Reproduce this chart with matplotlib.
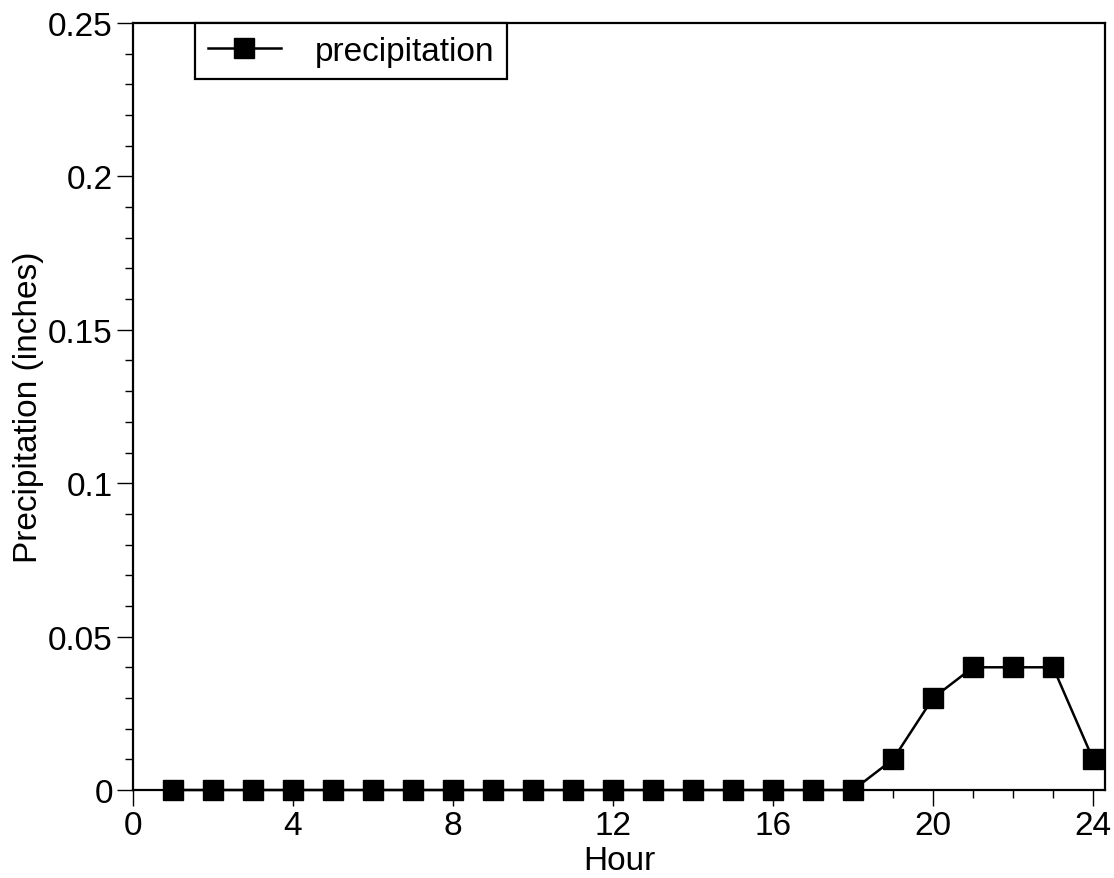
import numpy as np
import matplotlib
matplotlib.use("Agg")
import matplotlib.pyplot as plt
from matplotlib.ticker import MultipleLocator

plt.rcParams['font.family'] = ['Liberation Sans', 'DejaVu Sans']

hours = list(range(1, 25))
precip = [0, 0, 0, 0, 0, 0, 0, 0, 0, 0, 0, 0,
          0, 0, 0, 0, 0, 0, 0.01, 0.03, 0.04, 0.04, 0.04, 0.01]

fig = plt.figure(figsize=(11.14, 8.79), dpi=100)
ax = fig.add_axes([0.1194, 0.1001, 0.8726, 0.8726])

ax.plot(hours, precip, color='black', lw=1.8, marker='s', ms=15,
        clip_on=False, zorder=3, label='precipitation')

ax.set_xlim(0, 24.3)
ax.set_ylim(0, 0.25)
ax.xaxis.set_minor_locator(MultipleLocator(1))
ax.yaxis.set_minor_locator(MultipleLocator(0.01))
ax.set_xticks([0, 4, 8, 12, 16, 20, 24])
ax.set_xticklabels(['0', '4', '8', '12', '16', '20', '24'])
ax.set_yticks([0, 0.05, 0.1, 0.15, 0.2, 0.25])
ax.set_yticklabels(['0', '0.05', '0.1', '0.15', '0.2', '0.25'])

ax.tick_params(which='major', direction='out', length=11.5, width=1.0,
               labelsize=24, pad=3, top=False, right=False)
ax.tick_params(which='minor', direction='out', length=5.8, width=1.0,
               top=False, right=False)
for s in ax.spines.values():
    s.set_linewidth(1.6)

ax.set_xlabel('Hour', fontsize=24, labelpad=2.5)
ax.set_ylabel('Precipitation (inches)', fontsize=24, labelpad=3)

leg = ax.legend(loc='upper left', bbox_to_anchor=(0.0638, 1.0),
                borderaxespad=0, fontsize=24, fancybox=False,
                framealpha=1, edgecolor='black', handlelength=2.2,
                borderpad=0.38, handletextpad=1.0)
leg.get_frame().set_linewidth(1.6)

fig.savefig('out.png', dpi=100)
